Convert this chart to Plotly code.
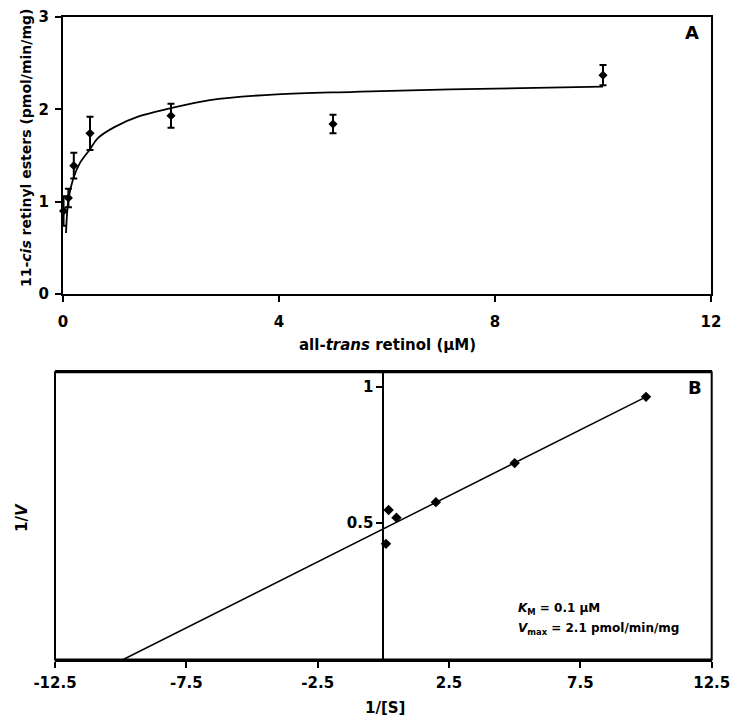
import plotly.graph_objects as go

# ---- Panel A data (all-trans retinol vs 11-cis retinyl esters) ----
a_x = [0.01, 0.1, 0.2, 0.5, 2, 5, 10]
a_y = [0.90, 1.04, 1.39, 1.74, 1.93, 1.84, 2.37]
a_err = [0.16, 0.10, 0.14, 0.18, 0.13, 0.10, 0.11]

# fitted saturation curve
fitA_x = [0.056, 0.1, 0.19, 0.31, 0.49, 0.65, 0.96, 1.39, 1.98, 2.72, 3.96, 5.4, 7.17, 10.0]
fitA_y = [0.66, 1.02, 1.25, 1.415, 1.56, 1.69, 1.81, 1.92, 2.01, 2.10, 2.163, 2.19, 2.217, 2.245]

# ---- Panel B data (Lineweaver-Burk) ----
b_x = [0.1, 0.2, 0.5, 2, 5, 10]
b_y = [0.424, 0.548, 0.52, 0.577, 0.72, 0.963]
fitB_x = [-9.9, 10.0]
fitB_y = [0.0, 0.963]

a_xticks = [0, 4, 8, 12]
a_yticks = [0, 1, 2, 3]
b_xticks = [-12.5, -7.5, -2.5, 2.5, 7.5, 12.5]
b_yticks = [0.5, 1]

FONT = "DejaVu Sans"
OFF = 8  # page body margin
W, H = 740 - 2 * OFF, 727 - 2 * OFF

def px(x):
    return (x - OFF) / W

def py(y):
    return 1 - (y - OFF) / H

fig = go.Figure()

fig.add_trace(go.Scatter(
    x=fitA_x, y=fitA_y, mode="lines", line=dict(color="black", width=1.8, shape="spline"),
    xaxis="x", yaxis="y", hoverinfo="skip", showlegend=False))
fig.add_trace(go.Scatter(
    x=a_x, y=a_y, mode="markers",
    marker=dict(symbol="diamond", size=7, color="black"),
    error_y=dict(type="data", array=a_err, visible=True, color="black", thickness=2, width=3.5),
    xaxis="x", yaxis="y", showlegend=False, cliponaxis=False))

fig.add_trace(go.Scatter(
    x=fitB_x, y=fitB_y, mode="lines", line=dict(color="black", width=1.5),
    xaxis="x2", yaxis="y2", hoverinfo="skip", showlegend=False))
fig.add_trace(go.Scatter(
    x=b_x, y=b_y, mode="markers",
    marker=dict(symbol="diamond", size=8, color="black"),
    xaxis="x2", yaxis="y2", showlegend=False, cliponaxis=False))

tickfont = dict(family=FONT, size=15, color="black", weight="bold")
axcommon = dict(showgrid=False, zeroline=False, showline=True, linecolor="black", linewidth=2,
                ticks="outside", ticklen=6, tickwidth=1.5, tickcolor="black", tickfont=tickfont,
                automargin=False)

xdA = [px(63), px(711)]
ydA = [py(294), py(17)]
xdB = [px(55), px(711.7)]
ydB = [py(659.5), py(372.3)]
b_zero_pos = xdB[0] + (xdB[1] - xdB[0]) * 0.5

fig.update_layout(
    width=W, height=H,
    margin=dict(l=0, r=0, t=0, b=0, autoexpand=False),
    paper_bgcolor="white", plot_bgcolor="white",
    showlegend=False,
    xaxis=dict(domain=xdA, range=[0, 12], tickvals=a_xticks, anchor="y", mirror=True,
               ticklabelstandoff=7, **axcommon),
    yaxis=dict(domain=ydA, range=[0, 3], tickvals=a_yticks, anchor="x", mirror=True,
               ticklabelstandoff=3, **axcommon),
    xaxis2=dict(domain=xdB, range=[-12.5, 12.5], tickvals=b_xticks, ticktext=[str(v) for v in b_xticks],
                anchor="y2", mirror=True, ticklabelstandoff=2, **axcommon),
    yaxis2=dict(domain=ydB, range=[0, 1.053], tickvals=b_yticks, ticktext=["0.5", "1"],
                anchor="free", position=b_zero_pos, **axcommon),
)

fig.add_shape(type="rect", xref="x2 domain", yref="y2 domain", x0=0, x1=1, y0=0, y1=1,
              line=dict(color="black", width=2), fillcolor="rgba(0,0,0,0)", layer="above")

annots = [
    dict(text="11-<i>cis</i> retinyl esters (pmol/min/mg)", x=px(26), y=py(148), textangle=-90, size=14),
    dict(text="all-<i>trans</i> retinol (μM)", x=px(387), y=py(345), size=15),
    dict(text="A", x=px(692), y=py(33), size=18),
    dict(text="B", x=px(695), y=py(388), size=18),
    dict(text="1/<i>V</i>", x=px(22), y=py(518), textangle=-90, size=15),
    dict(text="1/[S]", x=px(385), y=py(708), size=15),
]
for a in annots:
    fig.add_annotation(text=a["text"], x=a["x"], y=a["y"], xref="paper", yref="paper",
                       showarrow=False, textangle=a.get("textangle", 0),
                       font=dict(family=FONT, size=a["size"], color="black", weight="bold"),
                       xanchor="center", yanchor="middle")

fig.add_annotation(text="<i>K</i><sub>M</sub> = 0.1 μM", x=px(516), y=py(609), xref="paper", yref="paper",
                   showarrow=False, xanchor="left", yanchor="middle",
                   font=dict(family=FONT, size=12, color="black", weight="bold"))
fig.add_annotation(text="<i>V</i><sub>max</sub> = 2.1 pmol/min/mg", x=px(516), y=py(629), xref="paper", yref="paper",
                   showarrow=False, xanchor="left", yanchor="middle",
                   font=dict(family=FONT, size=12, color="black", weight="bold"))

fig.write_html("out.html", config={"displayModeBar": False})
